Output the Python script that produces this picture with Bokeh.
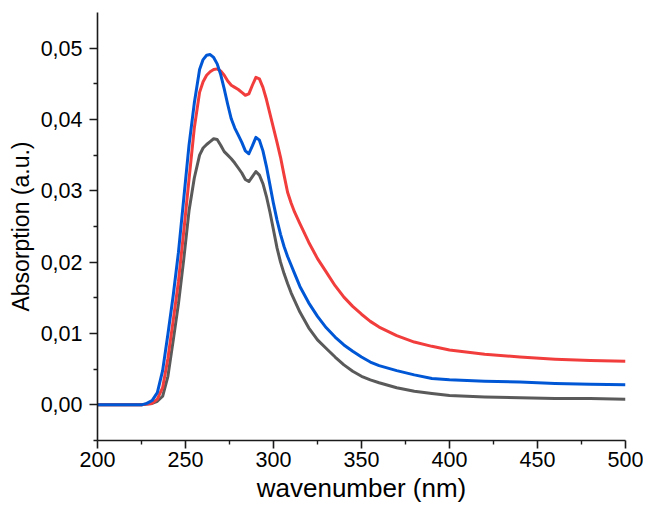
from bokeh.plotting import figure
from bokeh.models import FixedTicker, Range1d
from bokeh.embed import file_html
from bokeh.resources import INLINE

wavelength = [200, 210, 220, 225, 228, 231, 234, 237, 240, 243, 246, 249, 252, 255,
              258, 260, 262, 264, 266, 268, 270, 272, 274, 276, 278, 280, 282, 284, 286, 288,
              290, 292, 294, 296, 298, 300, 302, 304, 306, 308, 310, 312,
              315, 320, 325, 330, 335, 340, 345, 350, 355, 360,
              370, 380, 390, 400, 420, 440, 460, 480, 500]

blue = [0, 0, 0, 0, 0.0002, 0.0006, 0.0017, 0.0048, 0.0099, 0.0153, 0.0214, 0.0289, 0.0364, 0.0423,
        0.0470, 0.0484, 0.0490, 0.0491, 0.0487, 0.0478, 0.0463, 0.0443, 0.0421, 0.0401, 0.0388, 0.0378, 0.0368, 0.0356, 0.0352, 0.0363,
        0.0375, 0.0371, 0.0356, 0.0334, 0.0308, 0.0282, 0.0259, 0.0239, 0.0222, 0.0208, 0.0196, 0.0184,
        0.0166, 0.0143, 0.0124, 0.0108, 0.0095, 0.0084, 0.0075, 0.0067, 0.0060, 0.0055,
        0.0048, 0.0042, 0.0037, 0.0035, 0.0033, 0.0032, 0.0030, 0.0029, 0.0028]

red = [0, 0, 0, 0, 0.0001, 0.0002, 0.0008, 0.0024, 0.0065, 0.0118, 0.0173, 0.0243, 0.0316, 0.0388,
       0.0438, 0.0453, 0.0462, 0.0467, 0.0470, 0.0471, 0.0468, 0.0462, 0.0454, 0.0448, 0.0445, 0.0442, 0.0438, 0.0434, 0.0436, 0.0448,
       0.0459, 0.0457, 0.0445, 0.0428, 0.0408, 0.0388, 0.0368, 0.0347, 0.0322, 0.0298, 0.0283, 0.0270,
       0.0254, 0.0228, 0.0205, 0.0186, 0.0167, 0.0151, 0.0138, 0.0127, 0.0117, 0.0109,
       0.0097, 0.0088, 0.0082, 0.0077, 0.0071, 0.0067, 0.0064, 0.0062, 0.0061]

gray = [0, 0, 0, 0, 0.0001, 0.0002, 0.0005, 0.0012, 0.0040, 0.0090, 0.0142, 0.0204, 0.0272, 0.0318,
        0.0350, 0.0360, 0.0365, 0.0369, 0.0373, 0.0372, 0.0364, 0.0355, 0.0350, 0.0345, 0.0339, 0.0332, 0.0325, 0.0316, 0.0313, 0.0320,
        0.0327, 0.0322, 0.0310, 0.0292, 0.0270, 0.0245, 0.0220, 0.0200, 0.0184, 0.0170, 0.0157, 0.0146,
        0.0130, 0.0108, 0.0091, 0.0079, 0.0067, 0.0056, 0.0047, 0.0040, 0.0035, 0.0031,
        0.0024, 0.0019, 0.0016, 0.0013, 0.0011, 0.0010, 0.0009, 0.0009, 0.0008]

x_ticks = [200, 250, 300, 350, 400, 450, 500]
x_minor = [225, 275, 325, 375, 425, 475]
y_ticks = [0.0, 0.01, 0.02, 0.03, 0.04, 0.05]
y_tick_labels = ["0,00", "0,01", "0,02", "0,03", "0,04", "0,05"]
y_minor = [-0.005, 0.005, 0.015, 0.025, 0.035, 0.045]

FONT = "Liberation Sans"

p = figure(width=643, height=509, output_backend="svg", toolbar_location=None,
           x_range=Range1d(200, 500), y_range=Range1d(-0.005, 0.055),
           min_border_left=97, min_border_right=18, min_border_top=12, min_border_bottom=69)
p.outline_line_color = None
p.xgrid.visible = False
p.ygrid.visible = False
p.background_fill_color = "white"
p.border_fill_color = "white"

p.line(wavelength, gray, line_color="#5a5a5a", line_width=3, line_join="round")
p.line(wavelength, red, line_color="#f23d3d", line_width=3, line_join="round")
p.line(wavelength, blue, line_color="#0057d6", line_width=3, line_join="round")

for ax in (p.xaxis[0], p.yaxis[0]):
    ax.axis_line_color = "#1a1a1a"
    ax.axis_line_width = 1.6
    ax.major_tick_line_color = "#1a1a1a"
    ax.major_tick_line_width = 1.6
    ax.minor_tick_line_color = "#1a1a1a"
    ax.minor_tick_line_width = 1.4
    ax.major_tick_in = 0
    ax.major_tick_out = 8
    ax.minor_tick_in = 0
    ax.minor_tick_out = 4
    ax.major_label_text_font = FONT
    ax.major_label_text_color = "black"
    ax.major_label_text_font_size = "21.5px"
    ax.axis_label_text_font = FONT
    ax.axis_label_text_font_style = "normal"
    ax.axis_label_text_color = "black"

p.xaxis.ticker = FixedTicker(ticks=x_ticks, minor_ticks=x_minor)
p.yaxis.ticker = FixedTicker(ticks=y_ticks, minor_ticks=y_minor)
p.yaxis.major_label_overrides = {t: l for t, l in zip(y_ticks, y_tick_labels)}
p.xaxis.axis_label = "wavenumber (nm)"
p.yaxis.axis_label = "Absorption (a.u.)"
p.xaxis.axis_label_text_font_size = "26px"
p.yaxis.axis_label_text_font_size = "23px"
p.xaxis.major_label_standoff = 3
p.yaxis.major_label_standoff = 7
p.xaxis.axis_label_standoff = 3
p.yaxis.axis_label_standoff = 4

open("out.html", "w").write(file_html(p, INLINE))
